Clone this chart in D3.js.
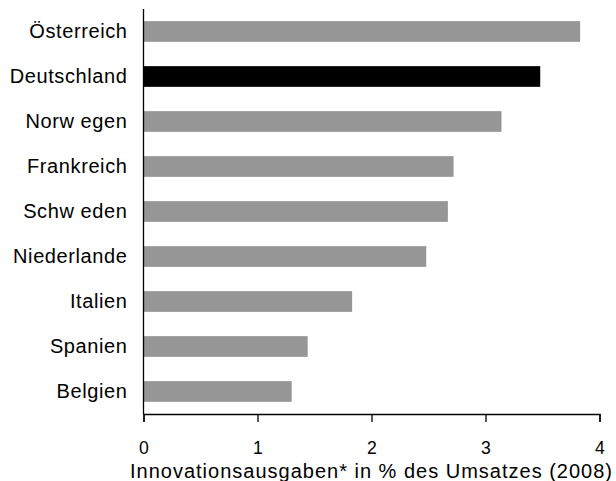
<!DOCTYPE html>
<html>
<head>
<meta charset="utf-8">
<script src="https://cdn.jsdelivr.net/npm/d3@7"></script>
<style>
  html, body { margin: 0; padding: 0; background: #fff; }
  svg { display: block; font-family: "Liberation Sans", Arial, sans-serif; }
</style>
</head>
<body>
<svg id="chart" width="616" height="481"></svg>
<script>
const categories = ["Österreich", "Deutschland", "Norw egen", "Frankreich", "Schw eden", "Niederlande", "Italien", "Spanien", "Belgien"];
const values = [3.83, 3.48, 3.14, 2.72, 2.67, 2.48, 1.83, 1.44, 1.30];
const highlight = "Deutschland";
const xTicks = [0, 1, 2, 3, 4];
const xTitle = "Innovationsausgaben* in % des Umsatzes (2008)";

const svg = d3.select("#chart");
const x = d3.scaleLinear().domain([0, 4]).range([143.5, 599.5]);
const y = d3.scaleBand().domain(categories).range([9, 414]).paddingInner(0.54).paddingOuter(0.27);

// bars
svg.append("g").selectAll("rect")
  .data(categories)
  .join("rect")
  .attr("x", x(0))
  .attr("y", d => y(d))
  .attr("width", (d, i) => x(values[i]) - x(0))
  .attr("height", y.bandwidth())
  .attr("fill", d => d === highlight ? "#000000" : "#969696");

// y axis line
svg.append("line")
  .attr("x1", x(0)).attr("x2", x(0))
  .attr("y1", 9).attr("y2", 414)
  .attr("stroke", "#000").attr("stroke-width", 1.3);

// category labels
svg.append("g").selectAll("text")
  .data(categories)
  .join("text")
  .attr("x", 127.5)
  .attr("y", d => y(d) + y.bandwidth() / 2)
  .attr("dy", "0.34em")
  .attr("text-anchor", "end")
  .attr("font-size", "20px")
  .attr("letter-spacing", "0.6px")
  .attr("fill", "#000")
  .text(d => d);

// x axis
const xAxis = d3.axisBottom(x).tickValues(xTicks).tickSize(8).tickPadding(20).tickFormat(d3.format("d"));
const gx = svg.append("g").attr("transform", "translate(0,414)").call(xAxis);
gx.select(".domain").attr("stroke", "#000").attr("stroke-width", 1.3);
gx.selectAll(".tick line").attr("stroke", "#000").attr("stroke-width", 1.3);
gx.selectAll(".tick text")
  .attr("font-family", "'Liberation Sans', Arial, sans-serif")
  .attr("font-size", "17.6px")
  .attr("fill", "#000");

// x title
svg.append("text")
  .attr("x", (x(0) + x(4)) / 2)
  .attr("y", 478)
  .attr("text-anchor", "middle")
  .attr("font-size", "20px")
  .attr("letter-spacing", "1px")
  .attr("fill", "#000")
  .text(xTitle);
</script>
</body>
</html>
